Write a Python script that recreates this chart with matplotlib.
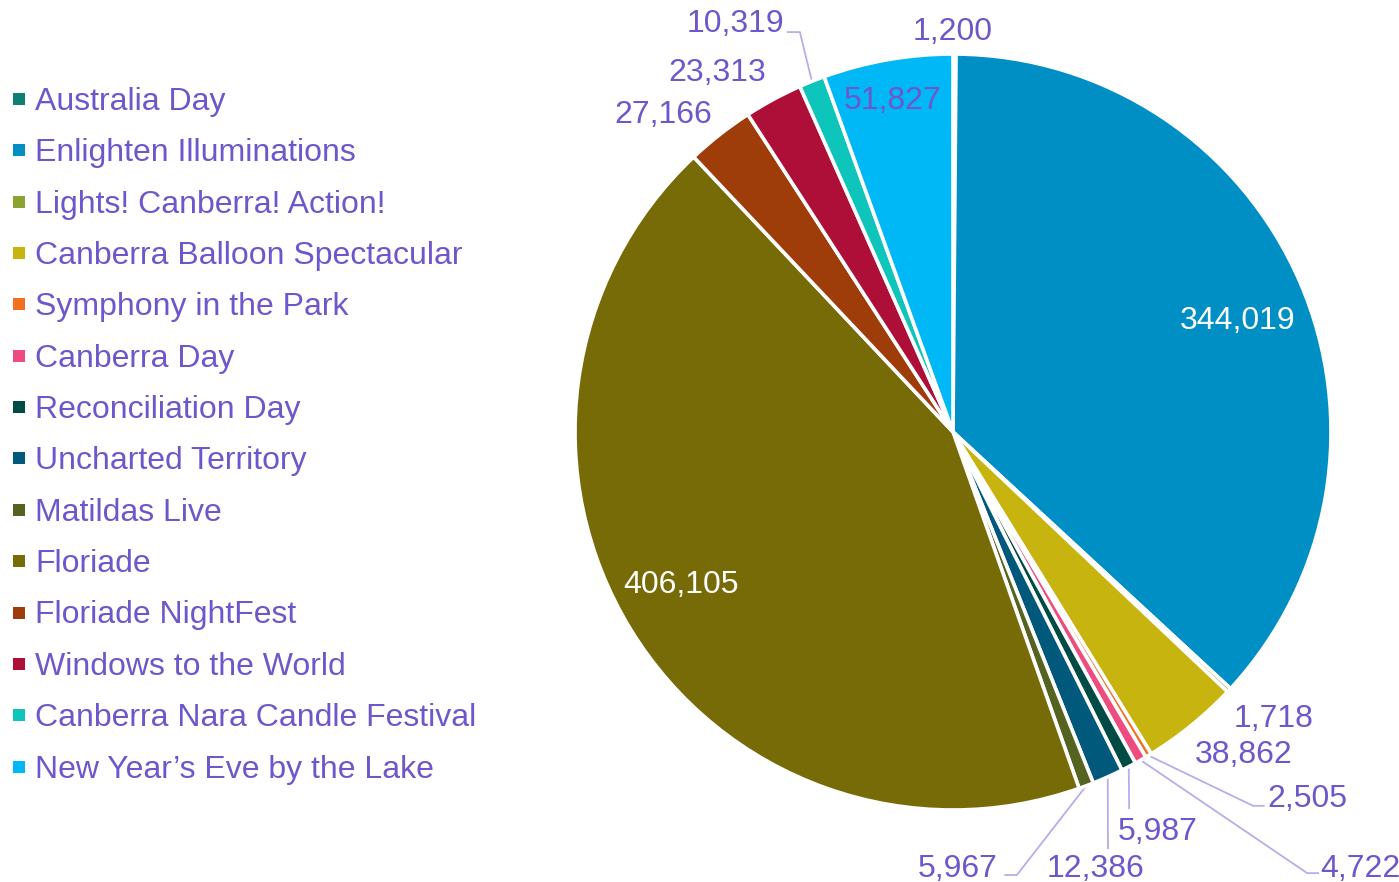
import numpy as np
import matplotlib.pyplot as plt
from matplotlib.patches import Rectangle

plt.rcParams['font.family'] = ['Liberation Sans', 'DejaVu Sans']

# Dados: público por evento
eventos = ["Australia Day", "Enlighten Illuminations", "Lights! Canberra! Action!",
           "Canberra Balloon Spectacular", "Symphony in the Park", "Canberra Day",
           "Reconciliation Day", "Uncharted Territory", "Matildas Live", "Floriade",
           "Floriade NightFest", "Windows to the World", "Canberra Nara Candle Festival",
           "New Year\u2019s Eve by the Lake"]
publico = [1200, 344019, 1718, 38862, 2505, 4722, 5987, 12386, 5967, 406105,
           27166, 23313, 10319, 51827]
cores = ["#0E7F73", "#008FC4", "#8DA331", "#C8B40E", "#F26F21", "#EE4C7E",
         "#004B45", "#00587A", "#556320", "#776B07", "#9E3D0A", "#AE0F38",
         "#0DC5BA", "#00B8F5"]

roxo = "#7056CB"
linha = "#B9ACE8"
fs = 23

# posição dos rótulos (coords de dados) e cotovelo da linha guia, se houver
rotulos = [
    ((0.0, 1.066), 'center', roxo, None),
    ((0.754, 0.302), 'center', 'white', None),
    ((0.847, -0.751), 'center', roxo, None),
    ((0.770, -0.847), 'center', roxo, None),
    ((0.833, -0.963), 'left', roxo, [(0.794, -0.989), (0.822, -0.989)]),
    ((0.971, -1.148), 'left', roxo, [(0.937, -1.167), (0.966, -1.167)]),
    ((0.542, -1.050), 'center', roxo, [(0.466, -0.995)]),
    ((0.376, -1.148), 'center', roxo, [(0.410, -1.101)]),
    ((0.119, -1.148), 'right', roxo, [(0.169, -1.172), (0.138, -1.172)]),
    ((-0.720, -0.397), 'center', 'white', None),
    ((-0.767, 0.847), 'center', roxo, None),
    ((-0.624, 0.958), 'center', roxo, None),
    ((-0.447, 1.087), 'right', roxo, [(-0.405, 1.058), (-0.437, 1.058)]),
    ((-0.159, 0.884), 'center', roxo, None),
]
dy = 3 / 378  # ajuste vertical do texto

W, H = 1399, 882
fig = plt.figure(figsize=(W / 100, H / 100), dpi=100)
ax = fig.add_axes([575 / W, 1 - 810 / H, 756 / W, 756 / H])

wedges, _ = ax.pie(publico, colors=cores, startangle=90, counterclock=False,
                   radius=1, wedgeprops=dict(edgecolor='white', linewidth=2.6))
ax.set_xlim(-1, 1)
ax.set_ylim(-1, 1)
ax.set_aspect('equal')
ax.axis('off')

for w, v, (pos, ha, cor, guia) in zip(wedges, publico, rotulos):
    if guia:
        ang = np.deg2rad((w.theta1 + w.theta2) / 2)
        xs = [np.cos(ang)] + [p[0] for p in guia]
        ys = [np.sin(ang)] + [p[1] for p in guia]
        ax.plot(xs, ys, color=linha, lw=1.3, clip_on=False, zorder=0)
    ax.text(pos[0], pos[1] - dy, f"{v:,}", ha=ha, va='center', color=cor,
            fontsize=fs, clip_on=False)

# Legenda manual
for i, (nome, cor) in enumerate(zip(eventos, cores)):
    yc = 99 + 51.35 * i
    fig.patches.append(Rectangle((13 / W, 1 - (yc + 6) / H), 12 / W, 12 / H,
                                 transform=fig.transFigure, facecolor=cor,
                                 edgecolor='none'))
    fig.text(35 / W, 1 - (yc + 3) / H, nome, ha='left', va='center', color=roxo,
             fontsize=fs)

plt.savefig("out.png", dpi=100)
